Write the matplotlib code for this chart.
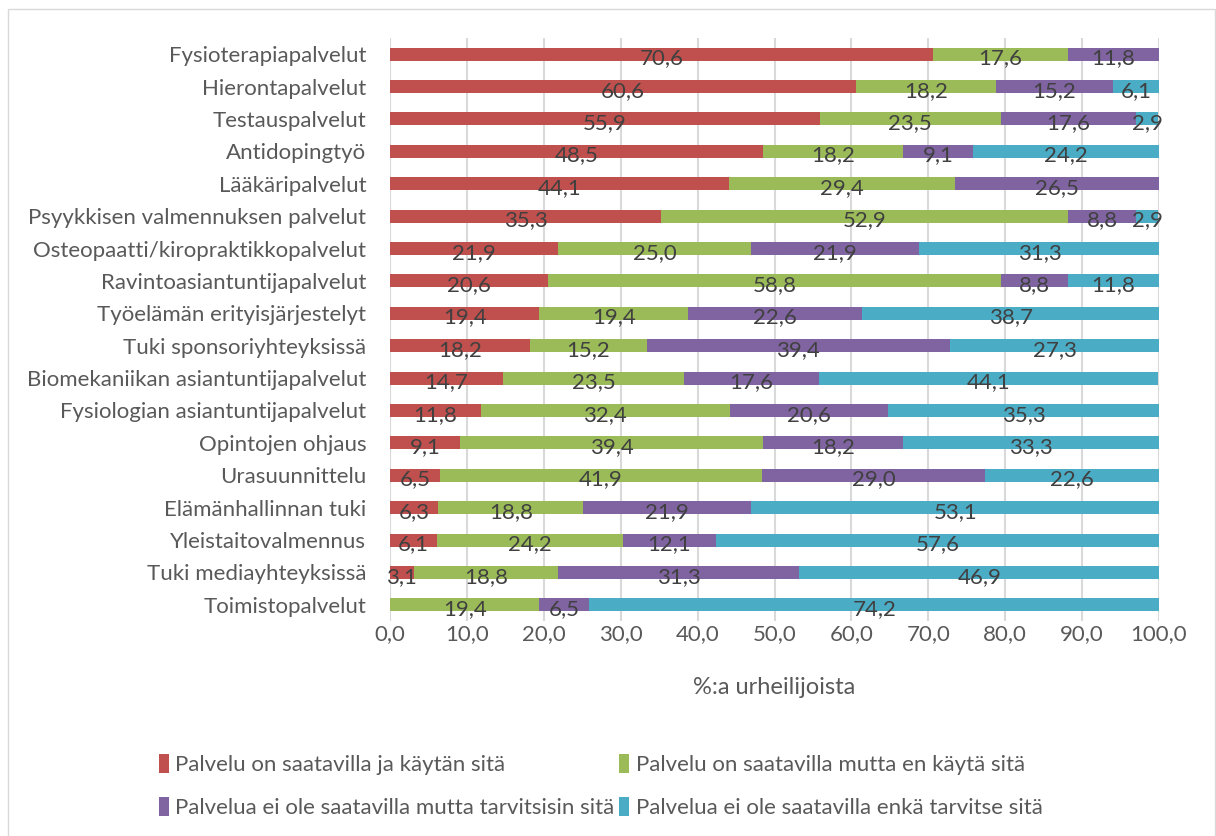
import matplotlib
matplotlib.use("Agg")
import matplotlib.pyplot as plt
from matplotlib.patches import Patch, Rectangle
import numpy as np

plt.rcParams["font.family"] = ["Lato", "DejaVu Sans"]

# ----------------------------
# Data (% of athletes)
# ----------------------------
categories = [
    "Fysioterapiapalvelut",
    "Hierontapalvelut",
    "Testauspalvelut",
    "Antidopingtyö",
    "Lääkäripalvelut",
    "Psyykkisen valmennuksen palvelut",
    "Osteopaatti/kiropraktikkopalvelut",
    "Ravintoasiantuntijapalvelut",
    "Työelämän erityisjärjestelyt",
    "Tuki sponsoriyhteyksissä",
    "Biomekaniikan asiantuntijapalvelut",
    "Fysiologian asiantuntijapalvelut",
    "Opintojen ohjaus",
    "Urasuunnittelu",
    "Elämänhallinnan tuki",
    "Yleistaitovalmennus",
    "Tuki mediayhteyksissä",
    "Toimistopalvelut",
]

available_used = [70.6, 60.6, 55.9, 48.5, 44.1, 35.3, 21.9, 20.6, 19.4,
                  18.2, 14.7, 11.8, 9.1, 6.5, 6.3, 6.1, 3.1, 0.0]
available_not_used = [17.6, 18.2, 23.5, 18.2, 29.4, 52.9, 25.0, 58.8, 19.4,
                      15.2, 23.5, 32.4, 39.4, 41.9, 18.8, 24.2, 18.8, 19.4]
missing_needed = [11.8, 15.2, 17.6, 9.1, 26.5, 8.8, 21.9, 8.8, 22.6,
                  39.4, 17.6, 20.6, 18.2, 29.0, 21.9, 12.1, 31.3, 6.5]
missing_not_needed = [0.0, 6.1, 2.9, 24.2, 0.0, 2.9, 31.3, 11.8, 38.7,
                      27.3, 44.1, 35.3, 33.3, 22.6, 53.1, 57.6, 46.9, 74.2]

series_names = [
    "Palvelu on saatavilla ja käytän sitä",
    "Palvelu on saatavilla mutta en käytä sitä",
    "Palvelua ei ole saatavilla mutta tarvitsisin sitä",
    "Palvelua ei ole saatavilla enkä tarvitse sitä",
]
xticks = [0, 10, 20, 30, 40, 50, 60, 70, 80, 90, 100]

colors = ["#C0504D", "#9BBB59", "#8064A2", "#4BACC6"]
text_color = "#404040"
tick_color = "#595959"
fs = 16

# ----------------------------
# Figure
# ----------------------------
fig = plt.figure(figsize=(12.16, 8.36), dpi=100)
ax = fig.add_axes([390 / 1216, 1 - 621 / 836, (1159 - 390) / 1216, (621 - 38) / 836])

# chart border
fig.patches.append(Rectangle((8 / 1216, -0.01), (1215 - 8) / 1216, 1 - 9 / 836 + 0.01,
                             transform=fig.transFigure, fill=False,
                             edgecolor="#D9D9D9", lw=1.0))

y = np.arange(len(categories))
left = np.zeros(len(categories))
all_series = [available_used, available_not_used, missing_needed, missing_not_needed]

for vals, col in zip(all_series, colors):
    vals = np.array(vals)
    ax.barh(y, vals, left=left, height=0.4, color=col, edgecolor="none", zorder=3)
    for yi, (l, v) in enumerate(zip(left, vals)):
        if v > 0:
            ax.text(l + v / 2, yi + 0.13, f"{v:.1f}".replace(".", ","),
                    ha="center", va="center", fontsize=fs, color=text_color, zorder=4)
    left += vals

ax.set_ylim(len(categories) - 0.5, -0.5)
ax.set_xlim(0, 100)
ax.set_yticks(y)
ax.set_yticklabels(categories, fontsize=fs, color=tick_color)
ax.set_xticks(xticks)
ax.set_xticklabels([f"{t:.1f}".replace(".", ",") for t in xticks], fontsize=fs, color=tick_color)
ax.tick_params(axis="both", length=0)
ax.tick_params(axis="y", pad=17)
ax.tick_params(axis="x", pad=2)
ax.set_xlabel("%:a urheilijoista", fontsize=17, color=tick_color, labelpad=24)
ax.grid(axis="x", color="#D9D9D9", lw=1.5, zorder=0)
for s in ax.spines.values():
    s.set_visible(False)

# legend: two rows, two columns
handles = [Patch(facecolor=c, edgecolor="none") for c in colors]
order = [0, 2, 1, 3]
fig.legend([handles[i] for i in order], [series_names[i] for i in order],
           loc="center", bbox_to_anchor=(0.494, 0.0595), ncol=2, frameon=False,
           fontsize=fs, handlelength=0.45, handleheight=0.9, handletextpad=0.3,
           columnspacing=0.2, labelspacing=1.0, labelcolor=tick_color)

fig.savefig("out.png", dpi=100)
